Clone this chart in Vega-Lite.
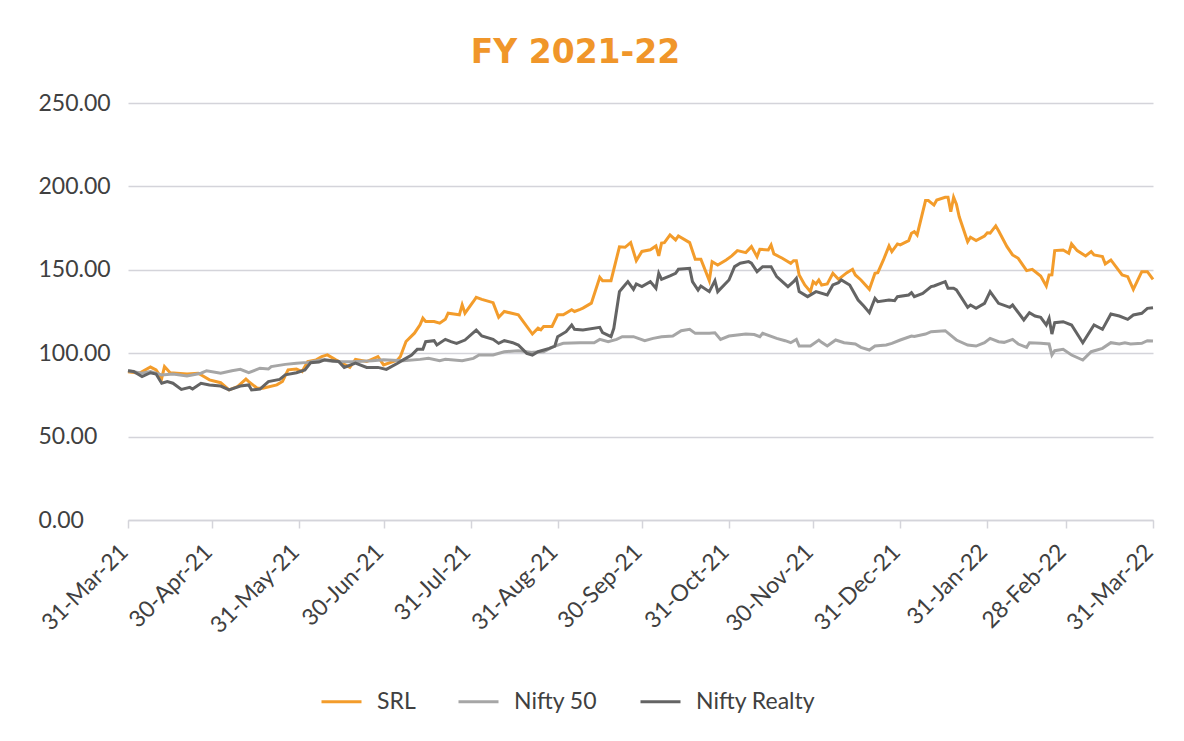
{
  "$schema": "https://vega.github.io/schema/vega-lite/v6.json",
  "autosize": {"type": "none"},
  "width": 1025,
  "height": 417,
  "padding": {"left": 128, "top": 103, "right": 31, "bottom": 221},
  "background": "white",
  "title": {"text": "FY 2021-22", "font": "DejaVu Sans", "fontWeight": "bold", "fontSize": 33, "color": "#F0962A", "anchor": "middle", "frame": "group", "dx": -65, "dy": 34, "baseline": "alphabetic", "offset": 30},
  "config": {"view": {"stroke": null}, "font": "Lato"},
  "data": {"values": [
    {"d":"2021-03-31","s":"SRL","v":88.9},{"d":"2021-04-04","s":"SRL","v":88},{"d":"2021-04-08","s":"SRL","v":91.7},{"d":"2021-04-10","s":"SRL","v":90},{"d":"2021-04-12","s":"SRL","v":85},{"d":"2021-04-13","s":"SRL","v":92},{"d":"2021-04-15","s":"SRL","v":88.3},{"d":"2021-04-21","s":"SRL","v":87.5},{"d":"2021-04-25","s":"SRL","v":88},{"d":"2021-04-27","s":"SRL","v":86},{"d":"2021-04-29","s":"SRL","v":84},{"d":"2021-05-03","s":"SRL","v":82.3},{"d":"2021-05-06","s":"SRL","v":78},{"d":"2021-05-09","s":"SRL","v":80},{"d":"2021-05-12","s":"SRL","v":84.5},{"d":"2021-05-13","s":"SRL","v":83},{"d":"2021-05-16","s":"SRL","v":79},{"d":"2021-05-18","s":"SRL","v":79},{"d":"2021-05-23","s":"SRL","v":81},{"d":"2021-05-25","s":"SRL","v":83},{"d":"2021-05-27","s":"SRL","v":90},{"d":"2021-05-30","s":"SRL","v":90.5},{"d":"2021-06-01","s":"SRL","v":89},{"d":"2021-06-03","s":"SRL","v":95},{"d":"2021-06-06","s":"SRL","v":96},{"d":"2021-06-08","s":"SRL","v":98},{"d":"2021-06-10","s":"SRL","v":99},{"d":"2021-06-13","s":"SRL","v":96},{"d":"2021-06-18","s":"SRL","v":91.5},{"d":"2021-06-20","s":"SRL","v":96.3},{"d":"2021-06-24","s":"SRL","v":95},{"d":"2021-06-28","s":"SRL","v":98},{"d":"2021-06-30","s":"SRL","v":93},{"d":"2021-07-05","s":"SRL","v":96},{"d":"2021-07-06","s":"SRL","v":98},{"d":"2021-07-08","s":"SRL","v":107},{"d":"2021-07-11","s":"SRL","v":112},{"d":"2021-07-13","s":"SRL","v":117},{"d":"2021-07-14","s":"SRL","v":121},{"d":"2021-07-15","s":"SRL","v":119},{"d":"2021-07-18","s":"SRL","v":119},{"d":"2021-07-20","s":"SRL","v":118},{"d":"2021-07-22","s":"SRL","v":120.3},{"d":"2021-07-23","s":"SRL","v":124},{"d":"2021-07-25","s":"SRL","v":123.5},{"d":"2021-07-27","s":"SRL","v":123},{"d":"2021-07-28","s":"SRL","v":129},{"d":"2021-07-29","s":"SRL","v":124},{"d":"2021-08-01","s":"SRL","v":131},{"d":"2021-08-02","s":"SRL","v":133.5},{"d":"2021-08-04","s":"SRL","v":132.3},{"d":"2021-08-08","s":"SRL","v":130.3},{"d":"2021-08-10","s":"SRL","v":121.5},{"d":"2021-08-12","s":"SRL","v":125},{"d":"2021-08-17","s":"SRL","v":123},{"d":"2021-08-22","s":"SRL","v":111.5},{"d":"2021-08-24","s":"SRL","v":115},{"d":"2021-08-25","s":"SRL","v":114},{"d":"2021-08-26","s":"SRL","v":116},{"d":"2021-08-29","s":"SRL","v":116},{"d":"2021-08-31","s":"SRL","v":123},{"d":"2021-09-02","s":"SRL","v":123},{"d":"2021-09-05","s":"SRL","v":126},{"d":"2021-09-06","s":"SRL","v":125},{"d":"2021-09-08","s":"SRL","v":126.3},{"d":"2021-09-09","s":"SRL","v":127},{"d":"2021-09-12","s":"SRL","v":130},{"d":"2021-09-15","s":"SRL","v":145.5},{"d":"2021-09-16","s":"SRL","v":143.5},{"d":"2021-09-19","s":"SRL","v":143.5},{"d":"2021-09-22","s":"SRL","v":163.8},{"d":"2021-09-24","s":"SRL","v":163.5},{"d":"2021-09-26","s":"SRL","v":166.3},{"d":"2021-09-28","s":"SRL","v":155.5},{"d":"2021-09-30","s":"SRL","v":161},{"d":"2021-10-03","s":"SRL","v":162},{"d":"2021-10-05","s":"SRL","v":164.3},{"d":"2021-10-06","s":"SRL","v":158.3},{"d":"2021-10-07","s":"SRL","v":166},{"d":"2021-10-08","s":"SRL","v":166.3},{"d":"2021-10-10","s":"SRL","v":170.9},{"d":"2021-10-12","s":"SRL","v":167.9},{"d":"2021-10-13","s":"SRL","v":170.3},{"d":"2021-10-17","s":"SRL","v":166.3},{"d":"2021-10-19","s":"SRL","v":156.3},{"d":"2021-10-21","s":"SRL","v":156.3},{"d":"2021-10-24","s":"SRL","v":143.5},{"d":"2021-10-25","s":"SRL","v":154.9},{"d":"2021-10-27","s":"SRL","v":152.9},{"d":"2021-10-30","s":"SRL","v":155.9},{"d":"2021-11-01","s":"SRL","v":158.3},{"d":"2021-11-03","s":"SRL","v":161.5},{"d":"2021-11-06","s":"SRL","v":160.3},{"d":"2021-11-08","s":"SRL","v":163.9},{"d":"2021-11-10","s":"SRL","v":157.9},{"d":"2021-11-11","s":"SRL","v":162.3},{"d":"2021-11-14","s":"SRL","v":161.9},{"d":"2021-11-15","s":"SRL","v":164.9},{"d":"2021-11-16","s":"SRL","v":159.5},{"d":"2021-11-19","s":"SRL","v":156.9},{"d":"2021-11-22","s":"SRL","v":153.9},{"d":"2021-11-23","s":"SRL","v":155.5},{"d":"2021-11-24","s":"SRL","v":155.5},{"d":"2021-11-25","s":"SRL","v":146.9},{"d":"2021-11-27","s":"SRL","v":140.9},{"d":"2021-11-29","s":"SRL","v":136.9},{"d":"2021-11-30","s":"SRL","v":142.9},{"d":"2021-12-01","s":"SRL","v":141.5},{"d":"2021-12-02","s":"SRL","v":143.9},{"d":"2021-12-03","s":"SRL","v":140.9},{"d":"2021-12-05","s":"SRL","v":141.5},{"d":"2021-12-07","s":"SRL","v":147.9},{"d":"2021-12-09","s":"SRL","v":144.3},{"d":"2021-12-12","s":"SRL","v":148.3},{"d":"2021-12-14","s":"SRL","v":150.3},{"d":"2021-12-15","s":"SRL","v":146.9},{"d":"2021-12-17","s":"SRL","v":143.9},{"d":"2021-12-20","s":"SRL","v":138.3},{"d":"2021-12-22","s":"SRL","v":147.9},{"d":"2021-12-23","s":"SRL","v":148.3},{"d":"2021-12-25","s":"SRL","v":155.9},{"d":"2021-12-27","s":"SRL","v":164.3},{"d":"2021-12-28","s":"SRL","v":160.9},{"d":"2021-12-30","s":"SRL","v":165.5},{"d":"2021-12-31","s":"SRL","v":164.9},{"d":"2022-01-03","s":"SRL","v":167.5},{"d":"2022-01-04","s":"SRL","v":171.9},{"d":"2022-01-05","s":"SRL","v":172.9},{"d":"2022-01-06","s":"SRL","v":170.9},{"d":"2022-01-09","s":"SRL","v":191.5},{"d":"2022-01-10","s":"SRL","v":191.5},{"d":"2022-01-12","s":"SRL","v":188.8},{"d":"2022-01-13","s":"SRL","v":191.8},{"d":"2022-01-16","s":"SRL","v":193.5},{"d":"2022-01-17","s":"SRL","v":193.5},{"d":"2022-01-18","s":"SRL","v":184.8},{"d":"2022-01-19","s":"SRL","v":193.5},{"d":"2022-01-20","s":"SRL","v":189.4},{"d":"2022-01-21","s":"SRL","v":181.8},{"d":"2022-01-24","s":"SRL","v":166.8},{"d":"2022-01-25","s":"SRL","v":169.5},{"d":"2022-01-27","s":"SRL","v":167.5},{"d":"2022-01-30","s":"SRL","v":170.3},{"d":"2022-01-31","s":"SRL","v":172.2},{"d":"2022-02-01","s":"SRL","v":172},{"d":"2022-02-03","s":"SRL","v":176.3},{"d":"2022-02-04","s":"SRL","v":173.4},{"d":"2022-02-07","s":"SRL","v":163.9},{"d":"2022-02-09","s":"SRL","v":158.9},{"d":"2022-02-11","s":"SRL","v":156.9},{"d":"2022-02-14","s":"SRL","v":149.5},{"d":"2022-02-16","s":"SRL","v":150.3},{"d":"2022-02-19","s":"SRL","v":146.3},{"d":"2022-02-21","s":"SRL","v":140.3},{"d":"2022-02-22","s":"SRL","v":146.9},{"d":"2022-02-23","s":"SRL","v":147},{"d":"2022-02-24","s":"SRL","v":161.5},{"d":"2022-02-27","s":"SRL","v":161.9},{"d":"2022-03-01","s":"SRL","v":159.9},{"d":"2022-03-02","s":"SRL","v":165.5},{"d":"2022-03-04","s":"SRL","v":161.5},{"d":"2022-03-07","s":"SRL","v":158.3},{"d":"2022-03-09","s":"SRL","v":160.9},{"d":"2022-03-10","s":"SRL","v":158.9},{"d":"2022-03-13","s":"SRL","v":157.9},{"d":"2022-03-14","s":"SRL","v":153.5},{"d":"2022-03-16","s":"SRL","v":155.9},{"d":"2022-03-20","s":"SRL","v":146.9},{"d":"2022-03-22","s":"SRL","v":145.9},{"d":"2022-03-24","s":"SRL","v":138.3},{"d":"2022-03-27","s":"SRL","v":148.9},{"d":"2022-03-29","s":"SRL","v":148.9},{"d":"2022-03-31","s":"SRL","v":144.3},

    {"d":"2021-03-31","s":"Nifty 50","v":89.5},{"d":"2021-04-05","s":"Nifty 50","v":88},{"d":"2021-04-08","s":"Nifty 50","v":89},{"d":"2021-04-12","s":"Nifty 50","v":87},{"d":"2021-04-16","s":"Nifty 50","v":87.5},{"d":"2021-04-21","s":"Nifty 50","v":86.3},{"d":"2021-04-26","s":"Nifty 50","v":88},{"d":"2021-04-28","s":"Nifty 50","v":89.5},{"d":"2021-05-03","s":"Nifty 50","v":88},{"d":"2021-05-07","s":"Nifty 50","v":89.5},{"d":"2021-05-10","s":"Nifty 50","v":90.3},{"d":"2021-05-13","s":"Nifty 50","v":88.3},{"d":"2021-05-17","s":"Nifty 50","v":91},{"d":"2021-05-20","s":"Nifty 50","v":90.5},{"d":"2021-05-21","s":"Nifty 50","v":92},{"d":"2021-05-26","s":"Nifty 50","v":93.3},{"d":"2021-05-30","s":"Nifty 50","v":94},{"d":"2021-06-03","s":"Nifty 50","v":94.5},{"d":"2021-06-08","s":"Nifty 50","v":96},{"d":"2021-06-12","s":"Nifty 50","v":95},{"d":"2021-06-19","s":"Nifty 50","v":94.9},{"d":"2021-06-26","s":"Nifty 50","v":95.5},{"d":"2021-06-30","s":"Nifty 50","v":96},{"d":"2021-07-07","s":"Nifty 50","v":95.5},{"d":"2021-07-13","s":"Nifty 50","v":96.3},{"d":"2021-07-16","s":"Nifty 50","v":96.9},{"d":"2021-07-20","s":"Nifty 50","v":95.5},{"d":"2021-07-22","s":"Nifty 50","v":96.3},{"d":"2021-07-28","s":"Nifty 50","v":95.5},{"d":"2021-08-01","s":"Nifty 50","v":96.9},{"d":"2021-08-03","s":"Nifty 50","v":98.9},{"d":"2021-08-08","s":"Nifty 50","v":98.9},{"d":"2021-08-12","s":"Nifty 50","v":100.9},{"d":"2021-08-17","s":"Nifty 50","v":101.5},{"d":"2021-08-22","s":"Nifty 50","v":100.5},{"d":"2021-08-26","s":"Nifty 50","v":100.9},{"d":"2021-08-30","s":"Nifty 50","v":104.3},{"d":"2021-09-02","s":"Nifty 50","v":105.9},{"d":"2021-09-08","s":"Nifty 50","v":106.3},{"d":"2021-09-13","s":"Nifty 50","v":106.3},{"d":"2021-09-15","s":"Nifty 50","v":108.3},{"d":"2021-09-18","s":"Nifty 50","v":106.9},{"d":"2021-09-21","s":"Nifty 50","v":108.3},{"d":"2021-09-23","s":"Nifty 50","v":109.9},{"d":"2021-09-27","s":"Nifty 50","v":109.9},{"d":"2021-10-01","s":"Nifty 50","v":107.5},{"d":"2021-10-04","s":"Nifty 50","v":108.9},{"d":"2021-10-07","s":"Nifty 50","v":109.9},{"d":"2021-10-11","s":"Nifty 50","v":110.3},{"d":"2021-10-14","s":"Nifty 50","v":113.5},{"d":"2021-10-17","s":"Nifty 50","v":114.3},{"d":"2021-10-19","s":"Nifty 50","v":111.9},{"d":"2021-10-24","s":"Nifty 50","v":111.9},{"d":"2021-10-26","s":"Nifty 50","v":112.2},{"d":"2021-10-28","s":"Nifty 50","v":108.3},{"d":"2021-10-31","s":"Nifty 50","v":110.3},{"d":"2021-11-03","s":"Nifty 50","v":110.9},{"d":"2021-11-06","s":"Nifty 50","v":111.5},{"d":"2021-11-09","s":"Nifty 50","v":111.2},{"d":"2021-11-11","s":"Nifty 50","v":109.9},{"d":"2021-11-12","s":"Nifty 50","v":111.9},{"d":"2021-11-17","s":"Nifty 50","v":108.9},{"d":"2021-11-20","s":"Nifty 50","v":107.5},{"d":"2021-11-22","s":"Nifty 50","v":106.3},{"d":"2021-11-24","s":"Nifty 50","v":108.3},{"d":"2021-11-25","s":"Nifty 50","v":104.3},{"d":"2021-11-29","s":"Nifty 50","v":104.3},{"d":"2021-12-02","s":"Nifty 50","v":107.9},{"d":"2021-12-03","s":"Nifty 50","v":106.5},{"d":"2021-12-05","s":"Nifty 50","v":104.3},{"d":"2021-12-08","s":"Nifty 50","v":107.9},{"d":"2021-12-11","s":"Nifty 50","v":106.3},{"d":"2021-12-15","s":"Nifty 50","v":105.5},{"d":"2021-12-17","s":"Nifty 50","v":103.5},{"d":"2021-12-20","s":"Nifty 50","v":101.9},{"d":"2021-12-22","s":"Nifty 50","v":104.3},{"d":"2021-12-26","s":"Nifty 50","v":104.9},{"d":"2021-12-28","s":"Nifty 50","v":105.9},{"d":"2021-12-31","s":"Nifty 50","v":107.9},{"d":"2022-01-04","s":"Nifty 50","v":110.3},{"d":"2022-01-05","s":"Nifty 50","v":110},{"d":"2022-01-09","s":"Nifty 50","v":111.5},{"d":"2022-01-11","s":"Nifty 50","v":112.9},{"d":"2022-01-16","s":"Nifty 50","v":113.5},{"d":"2022-01-20","s":"Nifty 50","v":107.9},{"d":"2022-01-24","s":"Nifty 50","v":104.9},{"d":"2022-01-27","s":"Nifty 50","v":104.3},{"d":"2022-01-30","s":"Nifty 50","v":106.3},{"d":"2022-02-01","s":"Nifty 50","v":108.9},{"d":"2022-02-04","s":"Nifty 50","v":106.9},{"d":"2022-02-06","s":"Nifty 50","v":106.5},{"d":"2022-02-09","s":"Nifty 50","v":108.3},{"d":"2022-02-11","s":"Nifty 50","v":105.5},{"d":"2022-02-14","s":"Nifty 50","v":103.5},{"d":"2022-02-15","s":"Nifty 50","v":106.3},{"d":"2022-02-19","s":"Nifty 50","v":105.9},{"d":"2022-02-22","s":"Nifty 50","v":105.5},{"d":"2022-02-23","s":"Nifty 50","v":98.9},{"d":"2022-02-24","s":"Nifty 50","v":101.5},{"d":"2022-02-27","s":"Nifty 50","v":102.3},{"d":"2022-03-02","s":"Nifty 50","v":98.9},{"d":"2022-03-06","s":"Nifty 50","v":95.9},{"d":"2022-03-09","s":"Nifty 50","v":100.9},{"d":"2022-03-13","s":"Nifty 50","v":102.9},{"d":"2022-03-16","s":"Nifty 50","v":106.3},{"d":"2022-03-19","s":"Nifty 50","v":105.5},{"d":"2022-03-21","s":"Nifty 50","v":106.3},{"d":"2022-03-23","s":"Nifty 50","v":105.5},{"d":"2022-03-27","s":"Nifty 50","v":105.9},{"d":"2022-03-29","s":"Nifty 50","v":107.5},{"d":"2022-03-31","s":"Nifty 50","v":107.3},

    {"d":"2021-03-31","s":"Nifty Realty","v":89.5},{"d":"2021-04-02","s":"Nifty Realty","v":89},{"d":"2021-04-05","s":"Nifty Realty","v":86},{"d":"2021-04-08","s":"Nifty Realty","v":88.3},{"d":"2021-04-10","s":"Nifty Realty","v":87.5},{"d":"2021-04-12","s":"Nifty Realty","v":82},{"d":"2021-04-14","s":"Nifty Realty","v":83},{"d":"2021-04-16","s":"Nifty Realty","v":82},{"d":"2021-04-19","s":"Nifty Realty","v":78.3},{"d":"2021-04-22","s":"Nifty Realty","v":79.5},{"d":"2021-04-23","s":"Nifty Realty","v":78.5},{"d":"2021-04-26","s":"Nifty Realty","v":82},{"d":"2021-04-29","s":"Nifty Realty","v":81},{"d":"2021-05-03","s":"Nifty Realty","v":80.3},{"d":"2021-05-06","s":"Nifty Realty","v":78},{"d":"2021-05-10","s":"Nifty Realty","v":80.3},{"d":"2021-05-13","s":"Nifty Realty","v":81},{"d":"2021-05-14","s":"Nifty Realty","v":78},{"d":"2021-05-17","s":"Nifty Realty","v":78.5},{"d":"2021-05-20","s":"Nifty Realty","v":83},{"d":"2021-05-24","s":"Nifty Realty","v":84.3},{"d":"2021-05-26","s":"Nifty Realty","v":87},{"d":"2021-05-30","s":"Nifty Realty","v":88.3},{"d":"2021-06-02","s":"Nifty Realty","v":90},{"d":"2021-06-04","s":"Nifty Realty","v":94.3},{"d":"2021-06-07","s":"Nifty Realty","v":94.7},{"d":"2021-06-09","s":"Nifty Realty","v":96},{"d":"2021-06-14","s":"Nifty Realty","v":95},{"d":"2021-06-16","s":"Nifty Realty","v":91.5},{"d":"2021-06-20","s":"Nifty Realty","v":94},{"d":"2021-06-24","s":"Nifty Realty","v":91.5},{"d":"2021-06-28","s":"Nifty Realty","v":91.5},{"d":"2021-07-01","s":"Nifty Realty","v":90.3},{"d":"2021-07-05","s":"Nifty Realty","v":94},{"d":"2021-07-07","s":"Nifty Realty","v":96},{"d":"2021-07-10","s":"Nifty Realty","v":98.9},{"d":"2021-07-12","s":"Nifty Realty","v":102.3},{"d":"2021-07-14","s":"Nifty Realty","v":102.3},{"d":"2021-07-15","s":"Nifty Realty","v":106.9},{"d":"2021-07-18","s":"Nifty Realty","v":107.5},{"d":"2021-07-19","s":"Nifty Realty","v":104.9},{"d":"2021-07-22","s":"Nifty Realty","v":108.3},{"d":"2021-07-24","s":"Nifty Realty","v":106.9},{"d":"2021-07-26","s":"Nifty Realty","v":105.9},{"d":"2021-07-29","s":"Nifty Realty","v":107.9},{"d":"2021-08-02","s":"Nifty Realty","v":113.9},{"d":"2021-08-04","s":"Nifty Realty","v":110.3},{"d":"2021-08-08","s":"Nifty Realty","v":108.3},{"d":"2021-08-10","s":"Nifty Realty","v":105.9},{"d":"2021-08-12","s":"Nifty Realty","v":107.5},{"d":"2021-08-15","s":"Nifty Realty","v":106.3},{"d":"2021-08-17","s":"Nifty Realty","v":104.9},{"d":"2021-08-20","s":"Nifty Realty","v":99.9},{"d":"2021-08-22","s":"Nifty Realty","v":98.9},{"d":"2021-08-24","s":"Nifty Realty","v":100.9},{"d":"2021-08-28","s":"Nifty Realty","v":102.9},{"d":"2021-08-30","s":"Nifty Realty","v":104.3},{"d":"2021-08-31","s":"Nifty Realty","v":109.9},{"d":"2021-09-03","s":"Nifty Realty","v":112.9},{"d":"2021-09-05","s":"Nifty Realty","v":116.9},{"d":"2021-09-06","s":"Nifty Realty","v":114.3},{"d":"2021-09-09","s":"Nifty Realty","v":113.9},{"d":"2021-09-15","s":"Nifty Realty","v":115.5},{"d":"2021-09-16","s":"Nifty Realty","v":112.3},{"d":"2021-09-19","s":"Nifty Realty","v":109.9},{"d":"2021-09-20","s":"Nifty Realty","v":114.9},{"d":"2021-09-22","s":"Nifty Realty","v":136.9},{"d":"2021-09-23","s":"Nifty Realty","v":138.9},{"d":"2021-09-25","s":"Nifty Realty","v":142.9},{"d":"2021-09-27","s":"Nifty Realty","v":138.3},{"d":"2021-09-28","s":"Nifty Realty","v":141.5},{"d":"2021-09-30","s":"Nifty Realty","v":139.9},{"d":"2021-10-03","s":"Nifty Realty","v":142.9},{"d":"2021-10-05","s":"Nifty Realty","v":138.9},{"d":"2021-10-06","s":"Nifty Realty","v":147.9},{"d":"2021-10-07","s":"Nifty Realty","v":144.3},{"d":"2021-10-10","s":"Nifty Realty","v":146.3},{"d":"2021-10-12","s":"Nifty Realty","v":147.9},{"d":"2021-10-13","s":"Nifty Realty","v":150.3},{"d":"2021-10-17","s":"Nifty Realty","v":150.9},{"d":"2021-10-18","s":"Nifty Realty","v":142.9},{"d":"2021-10-20","s":"Nifty Realty","v":137.9},{"d":"2021-10-21","s":"Nifty Realty","v":140.3},{"d":"2021-10-24","s":"Nifty Realty","v":136.9},{"d":"2021-10-26","s":"Nifty Realty","v":143.5},{"d":"2021-10-27","s":"Nifty Realty","v":136.9},{"d":"2021-10-31","s":"Nifty Realty","v":143.9},{"d":"2021-11-02","s":"Nifty Realty","v":151.9},{"d":"2021-11-04","s":"Nifty Realty","v":153.9},{"d":"2021-11-07","s":"Nifty Realty","v":154.9},{"d":"2021-11-08","s":"Nifty Realty","v":154},{"d":"2021-11-10","s":"Nifty Realty","v":148.9},{"d":"2021-11-12","s":"Nifty Realty","v":151.9},{"d":"2021-11-15","s":"Nifty Realty","v":151.9},{"d":"2021-11-17","s":"Nifty Realty","v":145.9},{"d":"2021-11-21","s":"Nifty Realty","v":139.9},{"d":"2021-11-23","s":"Nifty Realty","v":142.9},{"d":"2021-11-24","s":"Nifty Realty","v":144.9},{"d":"2021-11-25","s":"Nifty Realty","v":136.9},{"d":"2021-11-28","s":"Nifty Realty","v":133.9},{"d":"2021-12-01","s":"Nifty Realty","v":136.9},{"d":"2021-12-05","s":"Nifty Realty","v":134.9},{"d":"2021-12-07","s":"Nifty Realty","v":140.9},{"d":"2021-12-09","s":"Nifty Realty","v":142.3},{"d":"2021-12-10","s":"Nifty Realty","v":143.9},{"d":"2021-12-13","s":"Nifty Realty","v":140.9},{"d":"2021-12-16","s":"Nifty Realty","v":131.9},{"d":"2021-12-18","s":"Nifty Realty","v":128.3},{"d":"2021-12-20","s":"Nifty Realty","v":124.3},{"d":"2021-12-22","s":"Nifty Realty","v":132.9},{"d":"2021-12-23","s":"Nifty Realty","v":130.9},{"d":"2021-12-27","s":"Nifty Realty","v":131.9},{"d":"2021-12-29","s":"Nifty Realty","v":131.5},{"d":"2021-12-30","s":"Nifty Realty","v":133.9},{"d":"2022-01-03","s":"Nifty Realty","v":134.9},{"d":"2022-01-04","s":"Nifty Realty","v":136.3},{"d":"2022-01-05","s":"Nifty Realty","v":133.9},{"d":"2022-01-08","s":"Nifty Realty","v":135.9},{"d":"2022-01-11","s":"Nifty Realty","v":139.9},{"d":"2022-01-12","s":"Nifty Realty","v":140.3},{"d":"2022-01-16","s":"Nifty Realty","v":142.9},{"d":"2022-01-17","s":"Nifty Realty","v":138.9},{"d":"2022-01-19","s":"Nifty Realty","v":138.9},{"d":"2022-01-20","s":"Nifty Realty","v":137.9},{"d":"2022-01-24","s":"Nifty Realty","v":127.5},{"d":"2022-01-25","s":"Nifty Realty","v":128.9},{"d":"2022-01-27","s":"Nifty Realty","v":126.9},{"d":"2022-01-30","s":"Nifty Realty","v":129.9},{"d":"2022-02-01","s":"Nifty Realty","v":136.9},{"d":"2022-02-04","s":"Nifty Realty","v":129.9},{"d":"2022-02-08","s":"Nifty Realty","v":127.5},{"d":"2022-02-09","s":"Nifty Realty","v":128.9},{"d":"2022-02-13","s":"Nifty Realty","v":119.9},{"d":"2022-02-15","s":"Nifty Realty","v":124.3},{"d":"2022-02-17","s":"Nifty Realty","v":122.3},{"d":"2022-02-19","s":"Nifty Realty","v":121.5},{"d":"2022-02-21","s":"Nifty Realty","v":116.9},{"d":"2022-02-22","s":"Nifty Realty","v":120.9},{"d":"2022-02-23","s":"Nifty Realty","v":111.5},{"d":"2022-02-24","s":"Nifty Realty","v":118.3},{"d":"2022-02-27","s":"Nifty Realty","v":118.9},{"d":"2022-03-02","s":"Nifty Realty","v":116.9},{"d":"2022-03-06","s":"Nifty Realty","v":106.3},{"d":"2022-03-10","s":"Nifty Realty","v":116.9},{"d":"2022-03-13","s":"Nifty Realty","v":114.3},{"d":"2022-03-16","s":"Nifty Realty","v":123.5},{"d":"2022-03-19","s":"Nifty Realty","v":122.3},{"d":"2022-03-22","s":"Nifty Realty","v":120.3},{"d":"2022-03-24","s":"Nifty Realty","v":122.9},{"d":"2022-03-27","s":"Nifty Realty","v":123.9},{"d":"2022-03-29","s":"Nifty Realty","v":126.9},{"d":"2022-03-31","s":"Nifty Realty","v":127.3}
  ]},
  "mark": {"type": "line", "strokeWidth": 3, "interpolate": "linear"},
  "encoding": {
    "x": {
      "field": "d", "type": "temporal",
      "scale": {"type": "utc", "domain": [{"year": 2021, "month": 3, "date": 31, "utc": true}, {"year": 2022, "month": 3, "date": 31, "utc": true}]},
      "axis": {
        "title": null, "grid": false, "format": "%d-%b-%y", "labelAngle": -45, "labelAlign": "right", "labelBaseline": "middle",
        "labelFont": "Lato", "labelFontSize": 23, "labelColor": "#404040", "labelPadding": 20, "labelOffset": -4, "labelOverlap": false, "labelBound": false, "labelFlush": false,
        "domainColor": "#D4D4DA", "domainWidth": 1.5, "tickColor": "#D4D4DA", "tickWidth": 1.5, "tickSize": 8,
        "values": [
          {"year": 2021, "month": 3, "date": 31, "utc": true},
          {"year": 2021, "month": 4, "date": 30, "utc": true},
          {"year": 2021, "month": 5, "date": 31, "utc": true},
          {"year": 2021, "month": 6, "date": 30, "utc": true},
          {"year": 2021, "month": 7, "date": 31, "utc": true},
          {"year": 2021, "month": 8, "date": 31, "utc": true},
          {"year": 2021, "month": 9, "date": 30, "utc": true},
          {"year": 2021, "month": 10, "date": 31, "utc": true},
          {"year": 2021, "month": 11, "date": 30, "utc": true},
          {"year": 2021, "month": 12, "date": 31, "utc": true},
          {"year": 2022, "month": 1, "date": 31, "utc": true},
          {"year": 2022, "month": 2, "date": 28, "utc": true},
          {"year": 2022, "month": 3, "date": 31, "utc": true}
        ]
      }
    },
    "y": {
      "field": "v", "type": "quantitative",
      "scale": {"domain": [0, 250], "nice": false, "zero": true},
      "axis": {
        "title": null, "values": [0, 50, 100, 150, 200, 250], "format": ".2f",
        "domain": false, "ticks": false, "labelAlign": "left", "labelPadding": 90, "labelBaseline": "middle",
        "labelFont": "Lato", "labelFontSize": 23, "labelColor": "#404040",
        "grid": true, "gridColor": "#D4D4DA", "gridWidth": 1.5
      }
    },
    "color": {
      "field": "s", "type": "nominal",
      "scale": {"domain": ["SRL", "Nifty 50", "Nifty Realty"], "range": ["#F39C2B", "#A6A6A6", "#646464"]},
      "legend": {
        "title": null, "orient": "none", "direction": "horizontal", "legendX": 192, "legendY": 577,
        "symbolType": "stroke", "symbolSize": 1600, "symbolStrokeWidth": 3,
        "labelFont": "Lato", "labelFontSize": 23, "labelColor": "#404040", "labelOffset": 14, "columnPadding": 36
      }
    }
  }
}
